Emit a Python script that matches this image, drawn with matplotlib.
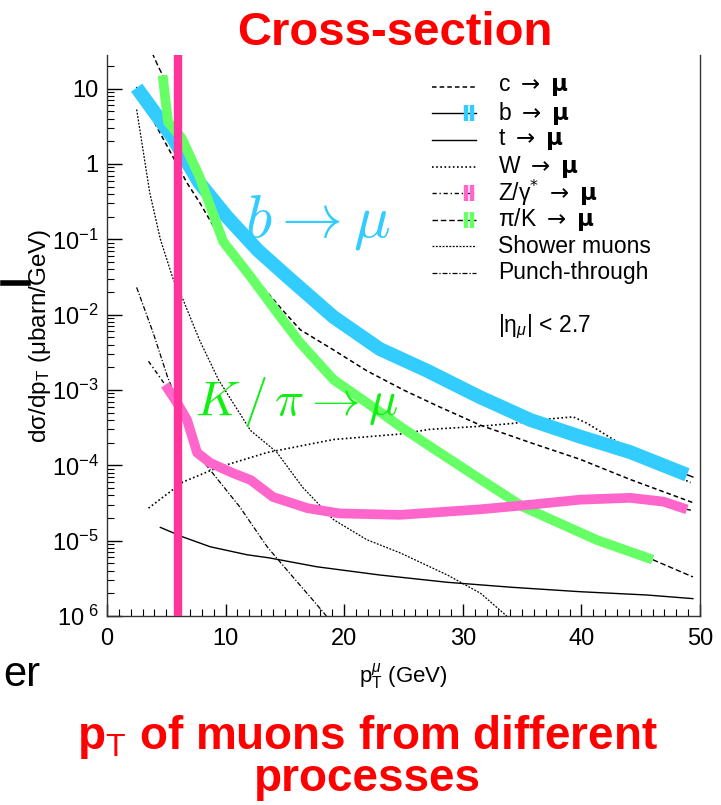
"""Muon pT spectra from different production processes"""
import numpy as np
import matplotlib
matplotlib.use('Agg')
import matplotlib.pyplot as plt
from matplotlib.ticker import FixedLocator, MultipleLocator, LogLocator, NullFormatter

plt.rcParams['font.family'] = ['Liberation Sans', 'DejaVu Sans']
plt.rcParams['mathtext.fontset'] = 'custom'
plt.rcParams['mathtext.rm'] = 'Liberation Sans'
plt.rcParams['mathtext.it'] = 'Liberation Sans:italic'
plt.rcParams['mathtext.bf'] = 'Liberation Sans:bold'

# cross sections in microbarn/GeV versus muon pT in GeV
pt_b = [2.5, 5.5, 7.8, 10.1, 12.7, 15.2, 19.1, 23.0, 27.0, 31.4, 35.7, 39.9,
        44.1, 48.9, 49.4]
xs_b = [10.3, 2.3, 0.56, 0.20, 0.072, 0.032, 9.3e-3, 3.5e-3, 1.8e-3, 8.1e-4,
        4.0e-4, 2.4e-4, 1.5e-4, 7.5e-5, 7.0e-5]

pt_c = [2.5, 4.3, 6.75, 7.8, 9.5, 14.8, 16.3, 19.1, 21.9, 25.0, 28.0, 31.5,
        35.7, 39.9, 44.1, 49.4]
xs_c = [10.0, 2.9, 0.56, 0.31, 0.108, 1.15e-2, 6.3e-3, 3.4e-3, 1.8e-3, 1.0e-3,
        6.0e-4, 3.4e-4, 2.0e-4, 1.2e-4, 6.5e-5, 3.2e-5]

pt_pik = [3.8, 4.3, 4.7, 4.9, 5.15, 6.3, 7.8, 9.8, 12.1, 14.6, 16.3, 19.1,
          21.9, 24.7, 27.2, 31.5, 35.1, 41.3, 46.0, 49.4]
xs_pik = [30.0, 20.0, 15.0, 7.6, 3.6, 2.2, 0.68, 0.093, 0.032, 9.4e-3, 4.2e-3,
          1.37e-3, 6.8e-4, 3.3e-4, 1.8e-4, 6.5e-5, 2.8e-5, 1.02e-5, 5.6e-6, 3.3e-6]

pt_z = [3.5, 4.3, 4.9, 5.9, 6.75, 7.6, 8.7, 10.6, 12.1, 14.0, 16.9, 19.6,
        24.7, 31.4, 35.7, 39.9, 44.1, 46.9, 48.9, 49.4]
xs_z = [2.4e-3, 1.6e-3, 1.17e-3, 6.8e-4, 4.0e-4, 1.47e-4, 1.08e-4, 7.9e-5,
        6.4e-5, 3.8e-5, 2.7e-5, 2.3e-5, 2.2e-5, 2.6e-5, 3.0e-5, 3.5e-5,
        3.7e-5, 3.3e-5, 2.6e-5, 2.5e-5]

pt_w = [3.5, 6.4, 9.3, 13.5, 19.1, 24.7, 27.2, 31.5, 34.2, 37.1, 39.3, 40.5,
        42.7, 45.5, 47.5, 49.2]
xs_w = [2.7e-5, 6.0e-5, 9.3e-5, 1.48e-4, 2.2e-4, 2.6e-4, 3.0e-4, 3.3e-4,
        3.6e-4, 4.1e-4, 4.4e-4, 3.6e-4, 2.2e-4, 1.18e-4, 7.9e-5, 5.9e-5]

pt_t = [4.5, 6.4, 8.7, 11.8, 13.7, 17.7, 23.0, 28.7, 34.2, 39.9, 45.5, 49.4]
xs_t = [1.5e-5, 1.12e-5, 8.3e-6, 6.5e-6, 5.9e-6, 4.5e-6, 3.5e-6, 2.8e-6,
        2.4e-6, 2.1e-6, 1.9e-6, 1.7e-6]

pt_shower = [2.5, 3.6, 4.5, 5.6, 6.4, 7.8, 9.4, 12.1, 14.3, 16.5, 19.1, 21.9,
             24.7, 28.7, 31.5, 33.7]
xs_shower = [5.3, 0.42, 0.10, 0.029, 0.016, 4.6e-3, 1.37e-3, 2.9e-4, 1.5e-4,
             5.1e-5, 1.9e-5, 1.03e-5, 6.9e-6, 3.5e-6, 2.0e-6, 1.0e-6]

pt_punch = [2.5, 3.9, 5.1, 5.7, 7.8, 11.2, 13.5, 15.4, 17.4, 18.5]
xs_punch = [2.3e-2, 5.7e-3, 1.5e-3, 8.7e-4, 1.3e-4, 2.8e-5, 8.3e-6, 3.7e-6,
            1.6e-6, 1.0e-6]

pt_cut = 6.0

legend_labels = [r'c $\rightarrow$ $\mathbf{\mu}$',
                 r'b $\rightarrow$ $\mathbf{\mu}$',
                 r't $\rightarrow$ $\mathbf{\mu}$',
                 r'W $\rightarrow$ $\mathbf{\mu}$',
                 r'Z/γ$^{*}$ $\rightarrow$ $\mathbf{\mu}$',
                 r'π/K $\rightarrow$ $\mathbf{\mu}$',
                 'Shower muons', 'Punch-through']

CYAN = '#33ccff'
GREEN = '#66ff66'
PINK = '#ff66cc'

fig = plt.figure(figsize=(7.21, 8.05), dpi=100)
ax = fig.add_axes([0.1484, 0.2348, 0.8225, 0.6969])
ax.set_yscale('log')
ax.set_xlim(0, 50)
ax.set_ylim(1e-6, 28)

styles = {
    'c': dict(ls=(0, (3, 2)), lw=1.1),
    'b': dict(ls='-', lw=1.0),
    't': dict(ls='-', lw=1.0),
    'W': dict(ls=(0, (1, 1.5)), lw=1.2),
    'Z': dict(ls=(0, (3, 2, 1, 2)), lw=1.0),
    'pik': dict(ls=(0, (4, 2)), lw=1.0),
    'shower': dict(ls=(0, (1.5, 1.2)), lw=0.9),
    'punch': dict(ls=(0, (4, 1.5, 1, 1.5)), lw=0.9),
}

ax.plot(pt_c, xs_c, color='k', **styles['c'])
ax.plot(pt_b, xs_b, color='k', **styles['b'])
ax.plot(pt_t, xs_t, color='k', **styles['t'])
ax.plot(pt_w, xs_w, color='k', **styles['W'])
ax.plot(pt_z, xs_z, color='k', **styles['Z'])
ax.plot(pt_pik, xs_pik, color='k', **styles['pik'])
ax.plot(pt_shower, xs_shower, color='k', **styles['shower'])
ax.plot(pt_punch, xs_punch, color='k', **styles['punch'])

# thick coloured overlays for the three highlighted processes
pt_b_np, xs_b_np = np.array(pt_b), np.array(xs_b)
sel = pt_b_np <= 48.9
ax.plot(pt_b_np[sel], xs_b_np[sel], color=CYAN, lw=10, solid_capstyle='butt',
        solid_joinstyle='round')

pt_pik_np, xs_pik_np = np.array(pt_pik), np.array(xs_pik)
sel = (pt_pik_np >= 4.7) & (pt_pik_np <= 46.0)
ax.plot(pt_pik_np[sel], xs_pik_np[sel], color=GREEN, lw=7, solid_capstyle='butt',
        solid_joinstyle='round')

pt_z_np, xs_z_np = np.array(pt_z), np.array(xs_z)
sel = (pt_z_np >= 4.9) & (pt_z_np <= 48.9)
ax.plot(pt_z_np[sel], xs_z_np[sel], color=PINK, lw=7, solid_capstyle='butt',
        solid_joinstyle='round')

ax.axvline(pt_cut, color='#ff3399', lw=6, zorder=5)

# axis frame: no top line, ticks pointing inward
ax.spines['top'].set_visible(False)
for s in ('left', 'bottom', 'right'):
    ax.spines[s].set_linewidth(1.0)
    ax.spines[s].set_color('#333333')

ax.xaxis.set_major_locator(MultipleLocator(10))
ax.xaxis.set_minor_locator(MultipleLocator(1))
ax.yaxis.set_major_locator(FixedLocator([10.0 ** k for k in range(-6, 2)]))
ax.yaxis.set_minor_locator(LogLocator(base=10, subs=np.arange(2, 10)))
ax.yaxis.set_minor_formatter(NullFormatter())
ax.set_yticklabels([r'10$^{\ 6}$', r'$10^{-5}$', r'$10^{-4}$', r'$10^{-3}$',
                    r'$10^{-2}$', r'$10^{-1}$', '1', '10'])
ax.tick_params(direction='in', which='major', length=11, width=1.0,
               labelsize=17, top=False, right=False)
ax.tick_params(direction='in', which='minor', length=5, width=0.8,
               top=False, right=False)
ax.tick_params(axis='x', which='major', length=9, pad=9)
ax.tick_params(axis='y', pad=6)

ax.set_xlabel(r'p$_{\rm T}^{\mu}$ (GeV)', fontsize=16, labelpad=8)
ax.set_ylabel(r'dσ/dp$_{\rm T}$ (μbarn/GeV)', fontsize=17.5, labelpad=-1)

# legend drawn as line samples and labels in axes fraction
row_y = [0.943, 0.896, 0.849, 0.801, 0.754, 0.706, 0.659, 0.612]
style_keys = ['c', 'b', 't', 'W', 'Z', 'pik', 'shower', 'punch']
badge = {'b': CYAN, 'Z': PINK, 'pik': GREEN}
for y, key, label in zip(row_y, style_keys, legend_labels):
    ax.plot([0.548, 0.622], [y, y], color='k', transform=ax.transAxes,
            **styles[key])
    if key in badge:
        ax.plot([0.606, 0.616], [y, y], ls='none', marker='|', ms=12, mew=3.2,
                color=badge[key], transform=ax.transAxes)
    ax.text(0.659, y, label, transform=ax.transAxes, fontsize=16.5,
            va='center', ha='left', math_fontfamily='dejavusans')
ax.text(0.659, 0.515, r'|η$_{\mu}$| < 2.7', transform=ax.transAxes,
        fontsize=16.5, va='center', ha='left')

# process annotations
ax.text(11.6, 0.108, r'$b \rightarrow \mu$', color=CYAN, fontsize=44,
        math_fontfamily='cm', ha='left', va='baseline')
ax.text(7.4, 4.7e-4, r'$K\,/\,\pi \rightarrow \mu$', color='#11ee11',
        fontsize=35, math_fontfamily='cm', ha='left', va='baseline')

fig.text(0.548, 0.944, 'Cross-section', color='red', fontsize=34,
         fontweight='bold', ha='center', va='baseline')
fig.text(0.51, 0.07, r'p$_{\rm T}$ of muons from different', color='red',
         fontsize=33, fontweight='bold', ha='center', va='baseline')
fig.text(0.51, 0.018, 'processes', color='red', fontsize=33,
         fontweight='bold', ha='center', va='baseline')

# fragments from the surrounding page
fig.text(0.056, 0.148, 'er', color='k', fontsize=30, ha='right', va='baseline')
fig.add_artist(plt.Line2D([0.004, 0.039], [0.648, 0.648], color='k', lw=4,
                          transform=fig.transFigure))

fig.savefig('out.png', dpi=100)
